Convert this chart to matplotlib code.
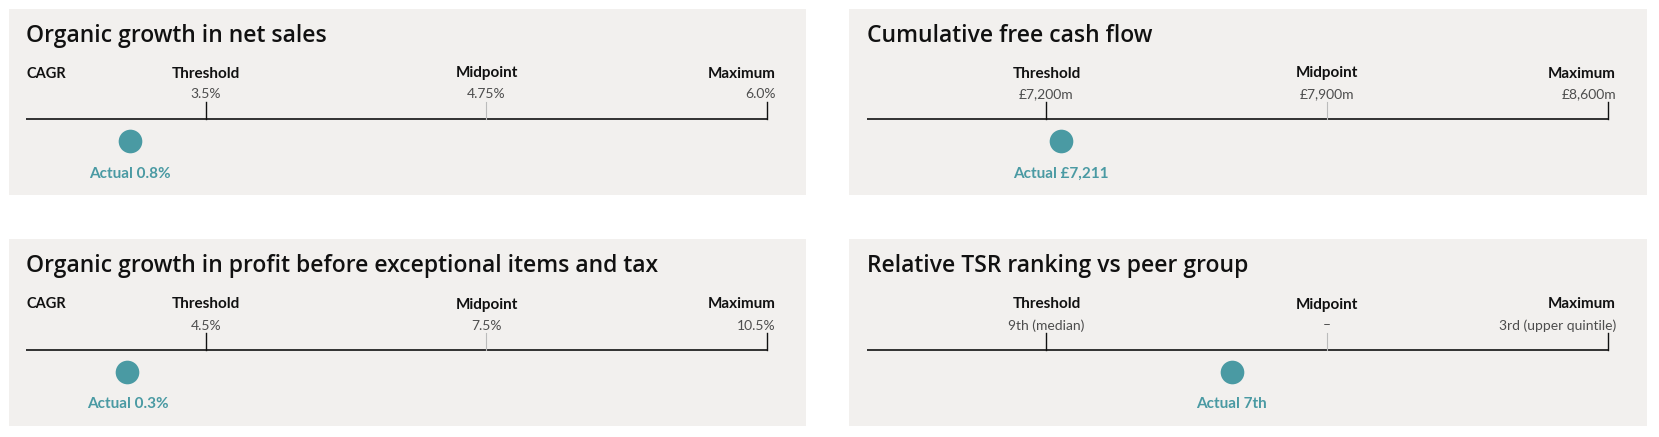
import matplotlib
matplotlib.use("Agg")
import matplotlib.pyplot as plt

# panel data
titles = ["Organic growth in net sales",
          "Cumulative free cash flow",
          "Organic growth in profit before exceptional items and tax",
          "Relative TSR ranking vs peer group"]
measure = ["CAGR", "", "CAGR", ""]
levels = ["Threshold", "Midpoint", "Maximum"]
level_values = [["3.5%", "4.75%", "6.0%"],
                ["£7,200m", "£7,900m", "£8,600m"],
                ["4.5%", "7.5%", "10.5%"],
                ["9th (median)", "–", "3rd (upper quintile)"]]
actual_labels = ["Actual 0.8%", "Actual £7,211", "Actual 0.3%", "Actual 7th"]
# position of the actual marker on a scale where threshold=1, midpoint=2, maximum=3
actual_pos = [0.73, 1.05, 0.72, 1.66]
level_pos = [1, 2, 3]

W, H = 1659, 437
BG = "#f2f0ee"
TEAL = "#4a9aa3"
NARROW = ["Lato", "DejaVu Sans"]
TITLEFONT = ["Open Sans", "DejaVu Sans"]

fig = plt.figure(figsize=(W / 100, H / 100), dpi=100)
fig.patch.set_facecolor("white")

# panel boxes in pixels: left, top, width, height
boxes = [(8.5, 8.5, 797.5, 186.5), (849, 8.5, 797.5, 186.5),
         (8.5, 239.5, 797.5, 186.5), (849, 239.5, 797.5, 186.5)]

for i, (l, t, w, h) in enumerate(boxes):
    ax = fig.add_axes([l / W, 1 - (t + h) / H, w / W, h / H])
    ax.set_facecolor(BG)
    for s in ax.spines.values():
        s.set_visible(False)
    ax.set_xticks([])
    ax.set_yticks([])
    ax.set_xlim(0.296, 3.139)
    ax.set_ylim(h, 0)  # pixel rows from panel top

    ax.text(0.36, 27, titles[i], fontsize=16.5, family=TITLEFONT, weight="semibold",
            color="#111111", va="center", ha="left")
    if measure[i]:
        ax.text(0.36, 65, measure[i], fontsize=10.5, family=NARROW, weight="bold",
                color="#111111", va="center", ha="left")

    # axis line
    ax.plot([0.36, 3], [110, 110], color="#111111", lw=1.2, solid_capstyle="butt")
    for j, p in enumerate(level_pos):
        tc = "#bbbbbb" if j == 1 else "#111111"
        ax.plot([p, p], [93, 110], color=tc, lw=1.0 if j != 1 else 0.8)
        ha = "right" if j == 2 else "center"
        xp = p + 0.03 if j == 2 else p
        ax.text(xp, 65, levels[j], fontsize=11, family=NARROW, weight="bold",
                color="#111111", va="center", ha=ha)
        ax.text(xp, 86, level_values[i][j], fontsize=10, family=NARROW,
                color="#4d4d4d", va="center", ha=ha)

    ax.scatter([actual_pos[i]], [132], s=290, color=TEAL, zorder=3, linewidths=0)
    ax.text(actual_pos[i], 165, actual_labels[i], fontsize=11, family=NARROW,
            weight="bold", color=TEAL, va="center", ha="center")

fig.savefig("out.png", dpi=100, facecolor="white")
